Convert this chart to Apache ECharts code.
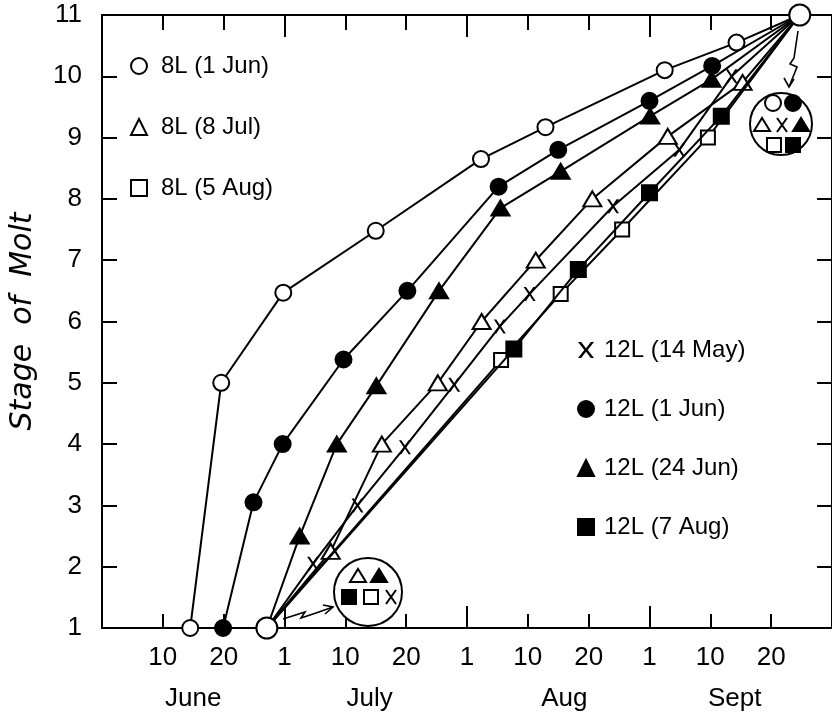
<!DOCTYPE html>
<html>
<head>
<meta charset="utf-8">
<script src="https://cdn.jsdelivr.net/npm/echarts@6/dist/echarts.min.js"></script>
<style>
  html, body { margin: 0; padding: 0; background: #fff; }
  #chart { width: 832px; height: 724px; }
</style>
</head>
<body>
<div id="chart"></div>
<script>
// ---- Data (x in "10-day" axis units: June d = d, July 1 = 30, Aug 1 = 60, Sept 1 = 90) ----
const tickValues = [10, 20, 30, 40, 50, 60, 70, 80, 90, 100, 110];
const tickLabels = ['10', '20', '1', '10', '20', '1', '10', '20', '1', '10', '20'];
const monthNames = ['June', 'July', 'Aug', 'Sept'];
const monthCenters = [15, 44, 76, 104];

const commonStart = [27.1, 1];
const commonEnd = [114.7, 11];

const s8L_1Jun_x  = [14.5, 19.6, 29.8, 45.0, 62.3, 72.9, 92.5, 104.3];
const s8L_1Jun_y  = [1, 5.0, 6.47, 7.48, 8.65, 9.17, 10.1, 10.55];

const s8L_8Jul_x  = [37.6, 46.0, 55.2, 62.4, 71.3, 80.6, 93.0, 105.3];
const s8L_8Jul_y  = [2.25, 4.0, 5.0, 6.0, 7.0, 8.0, 9.02, 9.9];

const s8L_5Aug_x  = [65.6, 75.4, 85.5, 99.6];
const s8L_5Aug_y  = [5.37, 6.45, 7.5, 9.0];

const s12L_14May_x = [34.7, 42.0, 49.8, 57.9, 65.4, 70.3, 84.0, 94.9, 103.5];
const s12L_14May_y = [2.05, 3.0, 3.95, 4.97, 5.92, 6.45, 7.88, 8.8, 10.0];

const s12L_1Jun_x  = [19.9, 24.9, 29.7, 39.7, 50.2, 65.2, 75.0, 90.0, 100.3];
const s12L_1Jun_y  = [1, 3.05, 4.0, 5.38, 6.5, 8.2, 8.8, 9.6, 10.17];

const s12L_24Jun_x = [32.5, 38.6, 45.1, 55.4, 65.5, 75.4, 90.1, 100.2];
const s12L_24Jun_y = [2.5, 4.0, 4.95, 6.5, 7.85, 8.45, 9.35, 9.95];

const s12L_7Aug_x  = [67.7, 78.3, 90.0, 101.8];
const s12L_7Aug_y  = [5.55, 6.85, 8.1, 9.35];

// ---- Styling ----
const FONT = 'Liberation Sans';
const BLACK = '#000';
const LW = 2;
const X_PATH = 'path://M0,0L2.4,0L6,4.6L9.6,0L12,0L7.3,6L12,12L9.6,12L6,7.4L2.4,12L0,12L4.7,6Z';

function pairs(xs, ys) { return xs.map((x, i) => [x, ys[i]]); }
function build(xs, ys, fromStart) {
  const pts = pairs(xs, ys);
  const out = [];
  if (fromStart) out.push({ value: commonStart, symbol: 'none' });
  pts.forEach(p => out.push(p));
  out.push({ value: commonEnd, symbol: 'none' });
  return out;
}

const defs = [
  { name: '8L (1 Jun)',   data: build(s8L_1Jun_x, s8L_1Jun_y, false),   symbol: 'circle',   size: 16,       fill: '#fff' },
  { name: '8L (8 Jul)',   data: build(s8L_8Jul_x, s8L_8Jul_y, true),    symbol: 'triangle', size: [18, 15], fill: '#fff' },
  { name: '8L (5 Aug)',   data: build(s8L_5Aug_x, s8L_5Aug_y, true),    symbol: 'rect',     size: 14,       fill: '#fff' },
  { name: '12L (14 May)', data: build(s12L_14May_x, s12L_14May_y, true), symbol: X_PATH,    size: [12, 14], fill: BLACK, noBorder: true },
  { name: '12L (1 Jun)',  data: build(s12L_1Jun_x, s12L_1Jun_y, false),  symbol: 'circle',  size: 16,       fill: BLACK },
  { name: '12L (24 Jun)', data: build(s12L_24Jun_x, s12L_24Jun_y, true), symbol: 'triangle', size: [18, 15], fill: BLACK },
  { name: '12L (7 Aug)',  data: build(s12L_7Aug_x, s12L_7Aug_y, true),   symbol: 'rect',    size: 15,       fill: BLACK }
];

const series = defs.map((d, i) => ({
  type: 'line',
  name: d.name,
  data: d.data,
  xAxisIndex: 0,
  yAxisIndex: 0,
  symbol: d.symbol,
  symbolSize: d.size,
  showAllSymbol: true,
  clip: false,
  z: 3 + i,
  lineStyle: { color: BLACK, width: LW },
  itemStyle: { color: d.fill, borderColor: BLACK, borderWidth: d.noBorder ? 0 : LW, opacity: 1 },
  emphasis: { disabled: true },
  animation: false
}));

series.push({
  type: 'scatter',
  name: 'common',
  data: [commonStart, commonEnd],
  xAxisIndex: 0,
  yAxisIndex: 0,
  symbol: 'circle',
  symbolSize: 21,
  clip: false,
  z: 20,
  itemStyle: { color: '#fff', borderColor: BLACK, borderWidth: LW, opacity: 1 },
  emphasis: { disabled: true },
  animation: false
});

function legendItem(d) {
  return {
    name: d.name,
    icon: d.symbol,
    itemStyle: { color: d.fill, borderColor: BLACK, borderWidth: d.noBorder ? 0 : LW, opacity: 1 }
  };
}

// ---- Inset annotations ----
const G = [];
function gCircle(cx, cy, r, fill) {
  G.push({ type: 'circle', z: 100, shape: { cx, cy, r }, style: { fill, stroke: BLACK, lineWidth: LW } });
}
function gTri(cx, cy, fill) {
  G.push({ type: 'polygon', z: 101, shape: { points: [[cx - 8, cy + 6], [cx + 8, cy + 6], [cx, cy - 7]] }, style: { fill, stroke: BLACK, lineWidth: LW } });
}
function gSq(cx, cy, fill) {
  G.push({ type: 'rect', z: 101, shape: { x: cx - 7, y: cy - 7, width: 14, height: 14 }, style: { fill, stroke: BLACK, lineWidth: LW } });
}
function gX(cx, cy) {
  G.push({ type: 'line', z: 101, shape: { x1: cx - 5, y1: cy - 7, x2: cx + 5, y2: cy + 7 }, style: { stroke: BLACK, lineWidth: 2 } });
  G.push({ type: 'line', z: 101, shape: { x1: cx + 5, y1: cy - 7, x2: cx - 5, y2: cy + 7 }, style: { stroke: BLACK, lineWidth: 2 } });
}
function gLine(points) {
  G.push({ type: 'polyline', z: 99, shape: { points }, style: { stroke: BLACK, lineWidth: 1.6, fill: null } });
}

// bottom inset
gCircle(368, 592, 34, '#fff');
gTri(358, 576, '#fff');
gTri(379, 576, BLACK);
gSq(349, 597, BLACK);
gSq(371, 597, '#fff');
gX(391, 597);
gLine([[283, 619], [305, 612], [301, 618], [316, 613], [333, 607]]);
gLine([[323, 605], [333, 607], [325, 614]]);

// top-right inset
gCircle(781, 124, 31, '#fff');
gCircle(773, 103, 8, '#fff');
gCircle(793, 103, 8, BLACK);
gTri(762, 125, '#fff');
gX(782, 125);
gTri(801, 125, BLACK);
gSq(774, 145, '#fff');
gSq(793, 145, BLACK);
gLine([[798, 31], [794, 58], [790, 64], [797, 67], [789, 87]]);
gLine([[784, 78], [789, 87], [794, 79]]);

const chart = echarts.init(document.getElementById('chart'), null, { renderer: 'canvas' });

const axisLine = { show: true, onZero: false, lineStyle: { color: BLACK, width: LW } };

chart.setOption({
  animation: false,
  backgroundColor: '#fff',
  grid: { left: 100, top: 15, width: 734, height: 613, containLabel: false },
  xAxis: [
    { // bottom: minor ticks + labels (data axis)
      type: 'value', position: 'bottom', min: 0, max: 120, interval: 10,
      axisLine, splitLine: { show: false },
      axisTick: { show: true, inside: true, length: 14, customValues: tickValues, lineStyle: { color: BLACK, width: LW } },
      axisLabel: {
        show: true, customValues: tickValues, margin: 17,
        fontSize: 26, fontFamily: FONT, color: BLACK,
        formatter: v => tickLabels[tickValues.indexOf(Math.round(v))] || ''
      }
    },
    { // bottom: month-start ticks
      type: 'value', position: 'bottom', min: 0, max: 120,
      axisLine: { show: false, onZero: false }, splitLine: { show: false },
      axisTick: { show: true, inside: true, length: 22, customValues: [30, 60, 90], lineStyle: { color: BLACK, width: LW } },
      axisLabel: { show: false }
    },
    { // bottom: month names
      type: 'value', position: 'bottom', min: 0, max: 120,
      axisLine: { show: false, onZero: false }, splitLine: { show: false },
      axisTick: { show: false },
      axisLabel: {
        show: true, customValues: monthCenters, margin: 58,
        fontSize: 26, fontFamily: FONT, color: BLACK,
        formatter: v => monthNames[monthCenters.indexOf(Math.round(v))] || ''
      }
    },
    { // top: minor ticks
      type: 'value', position: 'top', min: 0, max: 120,
      axisLine, splitLine: { show: false },
      axisTick: { show: true, inside: true, length: 15, customValues: tickValues, lineStyle: { color: BLACK, width: LW } },
      axisLabel: { show: false }
    },
    { // top: month-start ticks
      type: 'value', position: 'top', min: 0, max: 120,
      axisLine: { show: false, onZero: false }, splitLine: { show: false },
      axisTick: { show: true, inside: true, length: 22, customValues: [30, 60, 90], lineStyle: { color: BLACK, width: LW } },
      axisLabel: { show: false }
    }
  ],
  yAxis: [
    {
      type: 'value', position: 'left', min: 1, max: 11, interval: 1,
      axisLine: { show: true, onZero: false, lineStyle: { color: BLACK, width: LW } },
      splitLine: { show: false },
      axisTick: { show: true, inside: true, length: 15, lineStyle: { color: BLACK, width: LW } },
      axisLabel: { show: true, margin: 20, fontSize: 26, fontFamily: FONT, color: BLACK },
      name: 'Stage  of  Molt', nameLocation: 'middle', nameGap: 64, nameRotate: 90,
      nameTextStyle: { fontSize: 30, fontStyle: 'italic', fontFamily: 'DejaVu Sans', color: BLACK }
    },
    {
      type: 'value', position: 'right', min: 1, max: 11, interval: 1,
      axisLine: { show: true, onZero: false, lineStyle: { color: BLACK, width: LW } },
      splitLine: { show: false },
      axisTick: { show: true, inside: true, length: 15, lineStyle: { color: BLACK, width: LW } },
      axisLabel: { show: false }
    }
  ],
  legend: [
    {
      left: 125, top: 49, orient: 'vertical', itemGap: 37, itemWidth: 16, itemHeight: 16,
      selectedMode: false,
      textStyle: { fontSize: 24, fontFamily: FONT, color: BLACK, padding: [0, 0, 0, 9] },
      data: defs.slice(0, 3).map(legendItem)
    },
    {
      left: 572, top: 333, orient: 'vertical', itemGap: 35, itemWidth: 16, itemHeight: 16,
      selectedMode: false,
      textStyle: { fontSize: 24, fontFamily: FONT, color: BLACK, padding: [0, 0, 0, 5] },
      data: defs.slice(3).map(legendItem)
    }
  ],
  series,
  graphic: G
});
</script>
</body>
</html>
